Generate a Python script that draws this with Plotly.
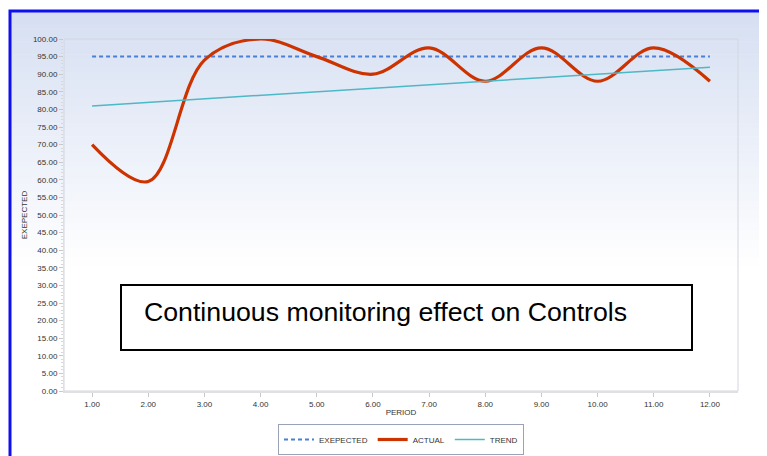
import plotly.graph_objects as go

periods = [1, 2, 3, 4, 5, 6, 7, 8, 9, 10, 11, 12]
expected = [95, 95, 95, 95, 95, 95, 95, 95, 95, 95, 95, 95]
actual = [70, 59.5, 94, 100, 95, 90, 97.5, 88, 97.5, 88, 97.5, 88]
trend = [81, 82, 83, 84, 85, 86, 87, 88, 89, 90, 91, 92]
x_ticks = [1, 2, 3, 4, 5, 6, 7, 8, 9, 10, 11, 12]
y_ticks = list(range(0, 101, 5))

OFF = 8  # page body margin
W, H = 767 - OFF, 456 - OFF
L, R, T, B = 64 - OFF, 738 - OFF, 39 - OFF, 391 - OFF
pw, ph = R - L, B - T

def px(x):
    return (x - OFF - L) / pw

def py(y):
    return (B - (y - OFF)) / ph

fig = go.Figure()
fig.add_trace(go.Scatter(x=periods, y=expected, name="EXEPECTED", mode="lines",
                         line=dict(color="#4a7fd6", width=2, dash="4px,3px")))
fig.add_trace(go.Scatter(x=periods, y=actual, name="ACTUAL", mode="lines",
                         line=dict(color="#cc3300", width=3.2, shape="spline", smoothing=1.0)))
fig.add_trace(go.Scatter(x=periods, y=trend, name="TREND", mode="lines",
                         line=dict(color="#4db8c6", width=1.5)))

shapes = []
# gradient background bands
top_c = (214, 223, 242)
y0p, y1p = 11, 270
n = 60
for i in range(n):
    a = y0p + (y1p - y0p) * i / n
    b = y0p + (y1p - y0p) * (i + 1) / n
    t = i / (n - 1)
    c = tuple(int(round(top_c[k] + (255 - top_c[k]) * t)) for k in range(3))
    shapes.append(dict(type="rect", xref="paper", yref="paper", layer="below",
                       x0=px(10), x1=px(761), y0=py(b + 0.6), y1=py(a),
                       fillcolor="rgb(%d,%d,%d)" % c, line=dict(width=0)))
# plot area border
shapes.append(dict(type="rect", xref="paper", yref="paper", layer="below",
                   x0=0, x1=1, y0=0, y1=1, line=dict(color="#d2d6e0", width=1)))
# right gray shadow
shapes.append(dict(type="rect", xref="paper", yref="paper", layer="above",
                   x0=px(760), x1=px(764), y0=py(470), y1=py(13),
                   fillcolor="#a8a8a8", line=dict(width=0)))
# outer blue frame
shapes.append(dict(type="rect", xref="paper", yref="paper", layer="above",
                   x0=px(10), x1=px(765.5), y0=py(470), y1=py(11),
                   line=dict(color="#1010ee", width=3)))
# annotation box
shapes.append(dict(type="rect", xref="paper", yref="paper", layer="above",
                   x0=px(121), x1=px(692), y0=py(350), y1=py(285),
                   fillcolor="white", line=dict(color="black", width=2)))

fig.update_layout(
    width=W, height=H,
    margin=dict(l=L, r=W - R, t=T, b=H - B, autoexpand=False),
    paper_bgcolor="white", plot_bgcolor="rgba(0,0,0,0)",
    font=dict(family="Liberation Sans, Arial, sans-serif", size=8, color="#333333"),
    shapes=shapes,
    showlegend=True,
    legend=dict(orientation="h", x=px(401), xanchor="center", y=py(439.5), yanchor="middle",
                bgcolor="white", bordercolor="#9aa3b5", borderwidth=1,
                font=dict(size=8, color="#333333"), itemwidth=30),
    annotations=[dict(text="Continuous monitoring effect on Controls", xref="paper", yref="paper",
                      x=px(142), y=py(312), xanchor="left", yanchor="middle", showarrow=False,
                      font=dict(size=26.7, color="black", family="Liberation Sans, Arial, sans-serif"))],
    xaxis=dict(range=[0.5, 12.5], tickvals=x_ticks, ticktext=["%.2f" % v for v in x_ticks],
               ticks="outside", ticklen=4, tickcolor="#c8c8c8", showgrid=False, zeroline=False,
               showline=True, linecolor="#e0e0e0", linewidth=2, automargin=False,
               title=dict(text="PERIOD", font=dict(size=8), standoff=2)),
    yaxis=dict(range=[0, 100], tickvals=y_ticks, ticktext=["%.2f" % v for v in y_ticks],
               ticks="outside", ticklen=4, tickcolor="#c8c8c8", showgrid=False, zeroline=False,
               showline=True, linecolor="#e0e0e0", linewidth=1, automargin=False,
               minor=dict(dtick=1, ticks="outside", ticklen=2, tickcolor="#d8d8d8"),
               title=dict(text="EXEPECTED", font=dict(size=8), standoff=4)),
)

fig.write_html("out.html")
